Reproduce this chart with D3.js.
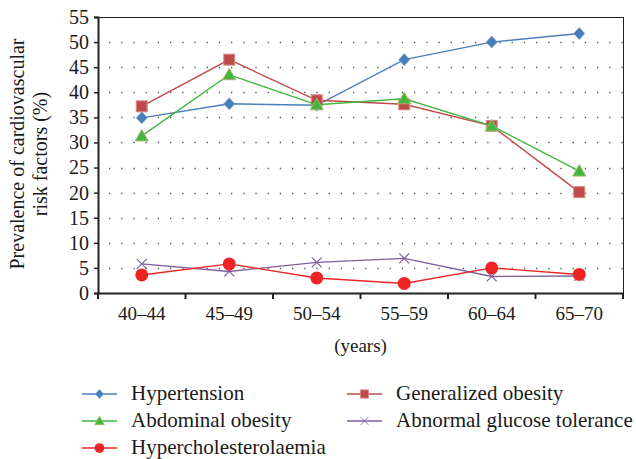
<!DOCTYPE html>
<html>
<head>
<meta charset="utf-8">
<title>Cardiovascular risk factors</title>
<style>
  body { margin: 0; background: #fff; }
  text { font-family: "Liberation Serif", "DejaVu Serif", serif; fill: #1a1a1a; }
</style>
</head>
<body>
<div id="chart"></div>
<script src="https://cdn.jsdelivr.net/npm/d3@7"></script>
<script>
// data
var ageGroups = ["40\u201344", "45\u201349", "50\u201354", "55\u201359", "60\u201364", "65\u201370"];
var hypertension = [34.9, 37.7, 37.4, 46.5, 50.0, 51.7];
var generalizedObesity = [37.2, 46.5, 38.4, 37.6, 33.3, 20.1];
var abdominalObesity = [31.3, 43.5, 37.5, 38.7, 33.3, 24.3];
var hypercholesterolaemia = [3.6, 5.8, 3.0, 1.9, 5.0, 3.7];
var glucoseTolerance = [5.8, 4.3, 6.1, 6.9, 3.3, 3.4];
var yTicks = [0, 5, 10, 15, 20, 25, 30, 35, 40, 45, 50, 55];

var series = [
  { name: "Hypertension", values: hypertension, color: "#4a7ebb", symbol: "diamond" },
  { name: "Generalized obesity", values: generalizedObesity, color: "#be4b48", symbol: "square" },
  { name: "Abdominal obesity", values: abdominalObesity, color: "#3fb83f", symbol: "triangle" },
  { name: "Abnormal glucose tolerance", values: glucoseTolerance, color: "#7d5fa0", symbol: "cross" },
  { name: "Hypercholesterolaemia", values: hypercholesterolaemia, color: "#ee2424", symbol: "circle" }
];

var width = 636, height = 459;
var margin = { top: 17, right: 13, bottom: 166, left: 98 };
var w = width - margin.left - margin.right,
    h = height - margin.top - margin.bottom;

var svg = d3.select("#chart").append("svg")
    .attr("width", width)
    .attr("height", height);

var g = svg.append("g").attr("transform", "translate(" + margin.left + "," + margin.top + ")");

var x = d3.scaleBand().domain(ageGroups).range([0, w]);
var y = d3.scaleLinear().domain([0, 55]).range([h, 0]);

// dotted grid
g.selectAll(".grid").data(yTicks.filter(function(d) { return d > 0 && d < 55; }))
  .enter().append("line")
    .attr("x1", 0).attr("x2", w)
    .attr("y1", function(d) { return Math.round(y(d)) + 0.5; })
    .attr("y2", function(d) { return Math.round(y(d)) + 0.5; })
    .style("stroke", "#555")
    .style("stroke-width", 1.3)
    .style("stroke-dasharray", "1.3,10.9")
    .style("stroke-dashoffset", -11);

// frame
g.append("rect")
  .attr("x", 0.5).attr("y", 0.5).attr("width", w).attr("height", h)
  .style("fill", "none").style("stroke", "#222").style("stroke-width", 1);

// y axis
var yAxis = g.append("g")
  .call(d3.axisLeft(y).tickValues(yTicks).tickSize(4).tickPadding(5));
yAxis.select(".domain").style("stroke", "#222").style("stroke-width", 2);
yAxis.selectAll(".tick line").style("stroke", "#222").style("stroke-width", 1.5);
yAxis.selectAll("text").style("font-size", "20px").attr("font-family", null);

// x axis
var xAxis = g.append("g").attr("transform", "translate(0," + h + ")")
  .call(d3.axisBottom(x).tickSize(0).tickPadding(14));
xAxis.select(".domain").style("stroke", "#222").style("stroke-width", 2);
xAxis.selectAll("text").style("font-size", "19px").attr("font-family", null);

// boundary ticks between categories
var boundaries = d3.range(ageGroups.length + 1).map(function(i) { return i * x.step(); });
g.selectAll(".btick").data(boundaries).enter().append("line")
  .attr("x1", function(d) { return d; }).attr("x2", function(d) { return d; })
  .attr("y1", h).attr("y2", h + 6)
  .style("stroke", "#222").style("stroke-width", 2);

// axis titles
svg.append("text")
  .attr("transform", "translate(24,154) rotate(-90)")
  .attr("text-anchor", "middle")
  .style("font-size", "20px")
  .text("Prevalence of cardiovascular");
svg.append("text")
  .attr("transform", "translate(47,154) rotate(-90)")
  .attr("text-anchor", "middle")
  .style("font-size", "20px")
  .text("risk factors (%)");
svg.append("text")
  .attr("x", margin.left + w / 2).attr("y", 352)
  .attr("text-anchor", "middle")
  .style("font-size", "19px")
  .text("(years)");

var cx = function(i) { return x(ageGroups[i]) + x.bandwidth() / 2; };

var line = d3.line()
  .x(function(d, i) { return cx(i); })
  .y(function(d) { return y(d); });

function drawMarker(sel, s, px, py) {
  if (s.symbol === "diamond") {
    sel.append("path").attr("transform", "translate(" + px + "," + py + ")")
      .attr("d", "M0,-6L5.5,0L0,6L-5.5,0Z")
      .style("fill", s.color).style("stroke", "#6d94c8").style("stroke-width", 0.6);
  } else if (s.symbol === "square") {
    sel.append("rect").attr("x", px - 5.5).attr("y", py - 5.5).attr("width", 11).attr("height", 11)
      .style("fill", s.color).style("stroke", "#d88d8b").style("stroke-width", 1);
  } else if (s.symbol === "triangle") {
    sel.append("path").attr("transform", "translate(" + px + "," + py + ")")
      .attr("d", "M0,-6.5L6.5,5L-6.5,5Z")
      .style("fill", s.color).style("stroke", "#b4b06a").style("stroke-width", 1);
  } else if (s.symbol === "circle") {
    sel.append("circle").attr("cx", px).attr("cy", py).attr("r", 6.5)
      .style("fill", s.color);
  } else if (s.symbol === "cross") {
    sel.append("path").attr("transform", "translate(" + px + "," + py + ")")
      .attr("d", "M-5,-5L5,5M-5,5L5,-5")
      .style("fill", "none").style("stroke", s.color).style("stroke-width", 1.2);
  }
}

series.forEach(function(s) {
  g.append("path").datum(s.values)
    .attr("d", line)
    .style("fill", "none").style("stroke", s.color).style("stroke-width", 1.4);
  s.values.forEach(function(v, i) {
    drawMarker(g, s, cx(i), y(v));
  });
});

// legend
var legendItems = [
  { s: series[0], x: 82, y: 394 },
  { s: series[2], x: 82, y: 421 },
  { s: series[4], x: 82, y: 448 },
  { s: series[1], x: 347, y: 394 },
  { s: series[3], x: 347, y: 421 }
];
legendItems.forEach(function(it) {
  var lg = svg.append("g");
  lg.append("line").attr("x1", it.x).attr("x2", it.x + 35)
    .attr("y1", it.y).attr("y2", it.y)
    .style("stroke", it.s.color).style("stroke-width", 1.4);
  var mg = lg.append("g").attr("transform", "translate(" + (it.x + 17.5) + "," + it.y + ") scale(0.75)");
  drawMarker(mg, it.s, 0, 0);
  lg.append("text").attr("x", it.x + 49).attr("y", it.y + 6)
    .style("font-size", "21px")
    .text(it.s.name);
});
</script>
</body>
</html>
